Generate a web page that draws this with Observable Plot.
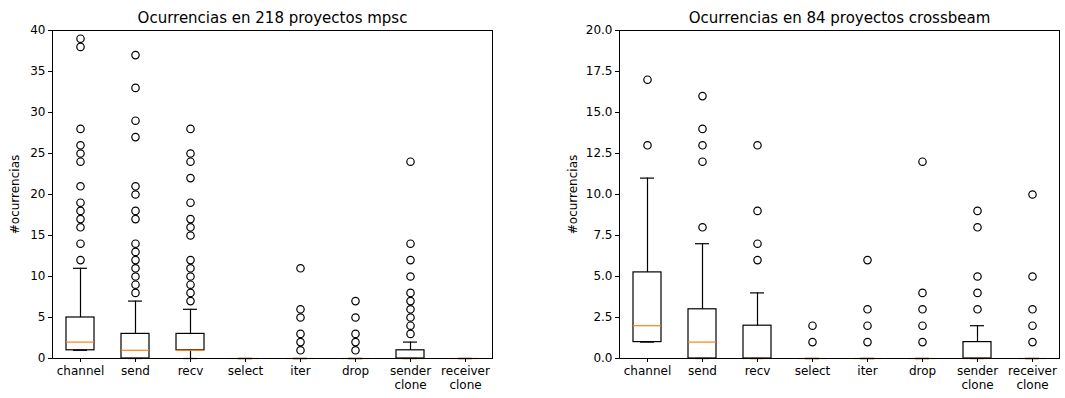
<!DOCTYPE html>
<html>
<head>
<meta charset="utf-8">
<script src="https://cdn.jsdelivr.net/npm/d3@7"></script>
<script src="https://cdn.jsdelivr.net/npm/@observablehq/plot@0.6"></script>
<style>
  html, body { margin: 0; padding: 0; background: #fff; }
  #wrap { position: relative; width: 1065px; height: 398px; overflow: hidden; }
  #wrap > div { position: absolute; top: 0; }
  svg { font-family: "DejaVu Sans", sans-serif; }
</style>
</head>
<body>
<div id="wrap"><div id="left" style="left:0"></div><div id="right" style="left:532px"></div></div>
<script>
const categories = ["channel", "send", "recv", "select", "iter", "drop", "sender\nclone", "receiver\nclone"];

// mpsc (218 proyectos)
const mpscTitle = "Ocurrencias en 218 proyectos mpsc";
const mpscQ1      = [1, 0, 1, 0, 0, 0, 0, 0];
const mpscMedian  = [2, 1, 1, 0, 0, 0, 0, 0];
const mpscQ3      = [5, 3, 3, 0, 0, 0, 1, 0];
const mpscWhiskLo = [1, 0, 0, 0, 0, 0, 0, 0];
const mpscWhiskHi = [11, 7, 6, 0, 0, 0, 2, 0];
const mpscOutliers = [
  [12, 14, 16, 17, 18, 19, 21, 24, 25, 26, 28, 38, 39],
  [8, 9, 10, 11, 12, 13, 14, 17, 18, 20, 21, 27, 29, 33, 37],
  [7, 8, 9, 10, 11, 12, 15, 16, 17, 19, 22, 24, 25, 28],
  [],
  [1, 2, 3, 5, 6, 11],
  [1, 2, 3, 5, 7],
  [3, 4, 5, 6, 7, 8, 10, 12, 14, 24],
  []
];
const mpscYTicks = [0, 5, 10, 15, 20, 25, 30, 35, 40];

// crossbeam (84 proyectos)
const cbTitle = "Ocurrencias en 84 proyectos crossbeam";
const cbQ1      = [1, 0, 0, 0, 0, 0, 0, 0];
const cbMedian  = [2, 1, 0, 0, 0, 0, 0, 0];
const cbQ3      = [5.25, 3, 2, 0, 0, 0, 1, 0];
const cbWhiskLo = [1, 0, 0, 0, 0, 0, 0, 0];
const cbWhiskHi = [11, 7, 4, 0, 0, 0, 2, 0];
const cbOutliers = [
  [13, 17],
  [8, 12, 13, 14, 16],
  [6, 7, 9, 13],
  [1, 2],
  [1, 2, 3, 6],
  [1, 2, 3, 4, 12],
  [3, 4, 5, 8, 9],
  [1, 2, 3, 5, 10]
];
const cbYTicks = [0, 2.5, 5, 7.5, 10, 12.5, 15, 17.5, 20];

const yLabel = "#ocurrencias";

function panel({title, q1, median, q3, lo, hi, outliers, yTicks, yFormat, yMax, width, marginLeft, marginRight, labelOffset}) {
  const stats = categories.map((c, i) => ({cat: c, q1: q1[i], median: median[i], q3: q3[i], lo: lo[i], hi: hi[i]}));
  const pts = categories.flatMap((c, i) => outliers[i].map(v => ({cat: c, value: v})));
  return Plot.plot({
    width, height: 398,
    marginLeft, marginRight, marginTop: 30, marginBottom: 40,
    style: {fontFamily: "DejaVu Sans, sans-serif", fontSize: "12px", color: "#000", background: "#fff", overflow: "visible"},
    x: {type: "band", domain: categories, paddingInner: 0.5, paddingOuter: 0.25, align: 0.5, label: null},
    y: {domain: [0, yMax], label: null},
    marks: [
      Plot.ruleX(stats, {x: "cat", y1: "q3", y2: "hi", stroke: "black", strokeWidth: 1.2}),
      Plot.ruleX(stats, {x: "cat", y1: "lo", y2: "q1", stroke: "black", strokeWidth: 1.2}),
      Plot.tickY(stats, {x: "cat", y: "hi", stroke: "black", strokeWidth: 1.2, insetLeft: 7, insetRight: 7}),
      Plot.tickY(stats, {x: "cat", y: "lo", stroke: "black", strokeWidth: 1.2, insetLeft: 7, insetRight: 7}),
      Plot.barY(stats, {x: "cat", y1: "q1", y2: "q3", fill: "none", stroke: "black", strokeWidth: 1.2}),
      Plot.tickY(stats, {x: "cat", y: "median", stroke: "#ff7f0e", strokeWidth: 1.2}),
      Plot.dot(pts, {x: "cat", y: "value", r: 3.7, stroke: "black", fill: "none", strokeWidth: 1.2}),
      Plot.frame({stroke: "black", strokeWidth: 1}),
      Plot.axisX({ticks: categories, tickSize: 4, tickPadding: 3, fontSize: 12, lineHeight: 1.15, label: null, stroke: "black"}),
      Plot.axisY({ticks: yTicks, tickFormat: yFormat, tickSize: 4, tickPadding: 3, fontSize: 12, label: yLabel, labelAnchor: "center", labelArrow: "none", labelOffset}),
      Plot.text([title], {frameAnchor: "top", dy: -8, lineAnchor: "bottom", fontSize: 15, fill: "black"})
    ]
  });
}

document.getElementById("left").appendChild(panel({
  title: mpscTitle, q1: mpscQ1, median: mpscMedian, q3: mpscQ3, lo: mpscWhiskLo, hi: mpscWhiskHi,
  outliers: mpscOutliers, yTicks: mpscYTicks, yFormat: d3.format("d"), yMax: 40,
  width: 532, marginLeft: 52, marginRight: 40, labelOffset: 42
}));
document.getElementById("right").appendChild(panel({
  title: cbTitle, q1: cbQ1, median: cbMedian, q3: cbQ3, lo: cbWhiskLo, hi: cbWhiskHi,
  outliers: cbOutliers, yTicks: cbYTicks, yFormat: d3.format(".1f"), yMax: 20,
  width: 533, marginLeft: 87, marginRight: 6, labelOffset: 51
}));
</script>
</body>
</html>
